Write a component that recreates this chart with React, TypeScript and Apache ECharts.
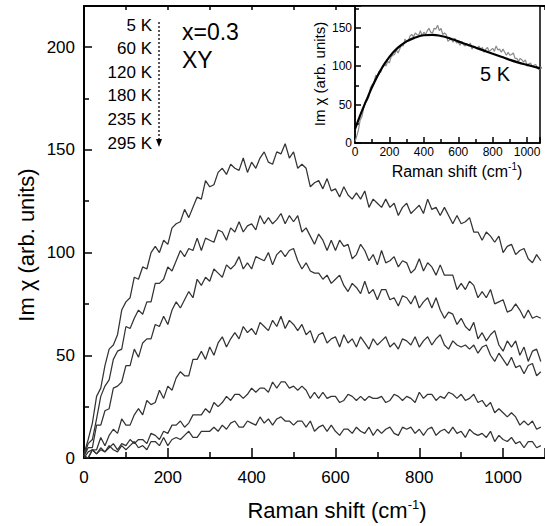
import React, { useEffect, useRef } from 'react';
import * as echarts from 'echarts';

// Raman shift grid step (cm^-1) for the main spectra, first point at 0
const SHIFT_STEP = 10;

// Im chi values, one value per 10 cm^-1 from 0 to 1090
const chi5K = [2, 9, 17, 30, 34, 45, 53, 55, 60, 72, 76, 78, 88, 87, 93, 92, 100, 103, 100, 106, 104, 112, 114, 115, 121, 117, 122, 127, 126, 135, 132, 133, 139, 141, 138, 143, 141, 140, 146, 139, 144, 141, 146, 149, 144, 143, 149, 148, 153, 146, 149, 141, 143, 141, 132, 134, 135, 131, 136, 130, 131, 127, 132, 128, 126, 129, 126, 130, 122, 126, 124, 122, 126, 122, 124, 118, 122, 124, 119, 121, 123, 119, 126, 121, 122, 118, 122, 118, 114, 118, 114, 115, 117, 110, 110, 106, 110, 108, 105, 108, 100, 103, 104, 99, 101, 102, 97, 95, 99, 96];
const chi60K = [1, 7, 9, 19, 30, 35, 38, 48, 52, 53, 64, 63, 68, 72, 70, 76, 76, 85, 85, 87, 93, 91, 96, 101, 98, 102, 101, 107, 101, 107, 106, 105, 111, 110, 106, 112, 110, 115, 110, 113, 114, 111, 118, 114, 117, 114, 116, 119, 114, 118, 115, 118, 110, 112, 108, 104, 109, 106, 101, 106, 101, 106, 103, 104, 97, 99, 104, 101, 96, 99, 94, 101, 95, 96, 98, 93, 96, 95, 90, 92, 97, 91, 95, 93, 89, 94, 89, 89, 89, 82, 85, 82, 86, 84, 78, 81, 78, 82, 75, 76, 77, 71, 72, 75, 72, 68, 72, 68, 69, 68];
const chi120K = [1, 5, 5, 16, 16, 23, 24, 34, 35, 37, 45, 45, 53, 49, 56, 58, 58, 65, 64, 69, 65, 72, 76, 73, 77, 81, 78, 87, 84, 88, 86, 92, 90, 88, 94, 92, 94, 98, 92, 95, 92, 98, 97, 96, 100, 94, 99, 101, 98, 101, 102, 96, 92, 95, 91, 90, 90, 87, 89, 85, 87, 89, 84, 81, 85, 83, 80, 86, 80, 82, 77, 82, 82, 77, 78, 74, 79, 78, 75, 79, 73, 76, 78, 73, 78, 72, 68, 71, 70, 65, 68, 64, 62, 66, 58, 61, 57, 60, 62, 55, 52, 57, 54, 57, 50, 54, 47, 52, 53, 47];
const chi180K = [0, 3, 4, 4, 10, 6, 11, 14, 12, 19, 16, 16, 21, 24, 21, 28, 26, 27, 33, 29, 35, 33, 39, 42, 40, 40, 48, 48, 52, 48, 54, 50, 56, 59, 54, 58, 61, 58, 64, 61, 63, 60, 66, 64, 62, 67, 64, 69, 63, 67, 65, 62, 65, 60, 62, 56, 60, 61, 56, 58, 59, 54, 60, 56, 58, 54, 59, 56, 53, 58, 55, 57, 59, 54, 56, 53, 58, 57, 55, 59, 54, 57, 59, 55, 58, 60, 55, 53, 57, 55, 54, 55, 53, 55, 51, 54, 55, 50, 47, 51, 48, 45, 49, 44, 45, 41, 45, 46, 40, 42];
const chi235K = [1, 0, 4, 2, 5, 3, 5, 7, 4, 7, 6, 9, 7, 9, 9, 7, 12, 11, 9, 13, 12, 16, 16, 18, 15, 17, 21, 21, 21, 24, 22, 27, 25, 27, 30, 28, 31, 31, 29, 31, 34, 32, 34, 34, 32, 37, 34, 37, 37, 34, 35, 33, 35, 33, 29, 32, 29, 32, 29, 30, 30, 27, 28, 31, 30, 28, 30, 28, 30, 29, 29, 30, 27, 28, 31, 30, 28, 30, 29, 27, 32, 29, 31, 31, 28, 30, 29, 32, 31, 29, 31, 28, 29, 31, 27, 28, 25, 27, 22, 24, 22, 20, 22, 20, 16, 18, 16, 18, 14, 15];
const chi295K = [1, 0, 4, 2, 4, 3, 6, 4, 3, 6, 4, 6, 8, 5, 6, 4, 8, 8, 6, 10, 6, 9, 10, 9, 11, 13, 10, 10, 13, 13, 13, 15, 13, 16, 14, 17, 18, 15, 15, 18, 17, 16, 20, 17, 19, 16, 19, 20, 18, 18, 16, 18, 18, 15, 18, 13, 15, 16, 13, 16, 13, 11, 14, 14, 12, 15, 13, 12, 15, 11, 14, 12, 14, 15, 12, 11, 15, 14, 15, 12, 14, 11, 14, 15, 11, 13, 14, 12, 15, 12, 13, 10, 14, 12, 11, 12, 10, 13, 8, 11, 9, 8, 10, 7, 8, 5, 8, 8, 5, 6];

// smooth fit shown in the inset (5 K)
const fitShift = [0, 25, 50, 75, 100, 150, 200, 250, 300, 350, 400, 450, 500, 550, 600, 650, 700, 750, 800, 850, 900, 950, 1000, 1050, 1075];
const fitValues = [18, 33, 47, 60, 73, 95, 112, 124, 132, 137, 140, 140.5, 139, 136, 132, 128, 124, 120, 116, 112, 108, 104.5, 101.5, 98.5, 97];

const tempLabels = ['5 K', '60 K', '120 K', '180 K', '235 K', '295 K'];
const FONT = '"Liberation Sans", Arial, Helvetica, sans-serif';

const toPairs = (vals: number[]) => vals.map((v, i) => [i * SHIFT_STEP, v]);

export default function App() {
  const ref = useRef<HTMLDivElement>(null);
  useEffect(() => {
    document.body.style.margin = '0';
    if (!ref.current) return;
    const chart = echarts.init(ref.current, undefined, { renderer: 'svg' });
    const curves = [chi5K, chi60K, chi120K, chi180K, chi235K, chi295K];
    const black = '#000';
    const tickStyle = { color: black, width: 1.5 };
    const mainSeries = curves.map((c, i) => ({
      type: 'line',
      name: tempLabels[i],
      xAxisIndex: 0,
      yAxisIndex: 0,
      data: toPairs(c),
      showSymbol: false,
      lineStyle: { color: '#333', width: 1.25 },
      z: 3,
    }));
    const legendTexts = tempLabels.map((t, i) => ({
      type: 'text',
      x: 152,
      y: 25 + i * 23.6,
      style: { text: t, align: 'right', verticalAlign: 'middle', fontSize: 17, fontFamily: FONT, fill: black },
    }));
    chart.setOption({
      animation: false,
      grid: [
        { left: 84, top: 6, right: -6, bottom: 68, show: false },
        { left: 355, top: 6, width: 185, height: 137, show: true, borderColor: black, borderWidth: 1.5, backgroundColor: '#fff', z: 5 },
      ],
      xAxis: [
        {
          type: 'value', gridIndex: 0, min: 0, max: 1100, interval: 200,
          axisLine: { show: true, onZero: false, lineStyle: { color: black, width: 2 } },
          axisTick: { inside: true, length: 10, lineStyle: tickStyle },
          minorTick: { show: true, splitNumber: 2, length: 6, lineStyle: tickStyle },
          axisLabel: { fontSize: 17, color: black, margin: 11, fontFamily: FONT, showMaxLabel: false, formatter: (v: number) => (v % 200 === 0 && v <= 1000 ? String(v) : '') },
          splitLine: { show: false },
        },
        {
          type: 'value', gridIndex: 0, min: 0, max: 1100, interval: 100, position: 'top',
          axisLine: { show: true, onZero: false, lineStyle: { color: black, width: 2 } },
          axisTick: { inside: true, length: 4, lineStyle: tickStyle },
          axisLabel: { show: false },
          splitLine: { show: false },
        },
        {
          type: 'value', gridIndex: 1, min: 0, max: 1075, interval: 200,
          axisLine: { show: true, onZero: false, lineStyle: { color: black, width: 1.5 } },
          axisTick: { inside: true, length: 6, lineStyle: tickStyle },
          minorTick: { show: true, splitNumber: 2, length: 4, lineStyle: tickStyle },
          axisLabel: { fontSize: 12, color: black, margin: 3, fontFamily: FONT, showMaxLabel: false, formatter: (v: number) => String(v) },
          splitLine: { show: false },
          z: 6,
        },
      ],
      yAxis: [
        {
          type: 'value', gridIndex: 0, min: 0, max: 220, interval: 50,
          axisLine: { show: true, onZero: false, lineStyle: { color: black, width: 2 } },
          axisTick: { inside: true, length: 8, lineStyle: tickStyle },
          minorTick: { show: true, splitNumber: 2, length: 5, lineStyle: tickStyle },
          axisLabel: { fontSize: 17, color: black, margin: 9, fontFamily: FONT, showMaxLabel: false },
          splitLine: { show: false },
        },
        {
          type: 'value', gridIndex: 1, min: 0, max: 178, interval: 50,
          axisLine: { show: true, onZero: false, lineStyle: { color: black, width: 1.5 } },
          axisTick: { inside: true, length: 6, lineStyle: tickStyle },
          minorTick: { show: true, splitNumber: 2, length: 4, lineStyle: tickStyle },
          axisLabel: { fontSize: 12, color: black, margin: 3, fontFamily: FONT, showMaxLabel: false },
          splitLine: { show: false },
          z: 6,
        },
      ],
      series: [
        ...mainSeries,
        {
          type: 'line', name: '5 K inset', xAxisIndex: 2, yAxisIndex: 1,
          data: toPairs(chi5K), showSymbol: false,
          lineStyle: { color: '#8a8a8a', width: 1.2 }, z: 6,
        },
        {
          type: 'line', name: 'fit', xAxisIndex: 2, yAxisIndex: 1,
          data: fitShift.map((s, i) => [s, fitValues[i]]), showSymbol: false, smooth: true,
          lineStyle: { color: black, width: 2.2 }, z: 7,
        },
      ],
      graphic: [
        ...legendTexts,
        { type: 'line', shape: { x1: 159, y1: 22, x2: 159, y2: 140 }, style: { stroke: black, lineWidth: 1.3, lineDash: [2, 2] } },
        { type: 'polygon', shape: { points: [[156, 139], [162, 139], [159, 147]] }, style: { fill: black } },
        { type: 'text', x: 182, y: 32, style: { text: 'x=0.3', align: 'left', verticalAlign: 'middle', fontSize: 23, fontFamily: FONT, fill: black } },
        { type: 'text', x: 182, y: 60, style: { text: 'XY', align: 'left', verticalAlign: 'middle', fontSize: 23, fontFamily: FONT, fill: black } },
        { type: 'text', x: 26, y: 245, rotation: Math.PI / 2, style: { text: 'Im χ (arb. units)', align: 'center', verticalAlign: 'middle', fontSize: 22, fontFamily: FONT, fill: black } },
        { type: 'text', x: 337, y: 510, style: { text: 'Raman shift (cm{sup|-1})', align: 'center', verticalAlign: 'middle', fontSize: 22, fontFamily: FONT, fill: black, rich: { sup: { fontSize: 13, fontFamily: FONT, fill: black, padding: [0, 0, 12, 0] } } } },
        { type: 'text', x: 457, y: 171, z: 10, style: { text: 'Raman shift (cm{sup|-1})', align: 'center', verticalAlign: 'middle', fontSize: 16, fontFamily: FONT, fill: black, rich: { sup: { fontSize: 10, fontFamily: FONT, fill: black, padding: [0, 0, 9, 0] } } } },
        { type: 'text', x: 319, y: 74, z: 10, rotation: Math.PI / 2, style: { text: 'Im χ (arb. units)', align: 'center', verticalAlign: 'middle', fontSize: 15, fontFamily: FONT, fill: black } },
        { type: 'text', x: 495, y: 74, z: 10, style: { text: '5 K', align: 'center', verticalAlign: 'middle', fontSize: 20, fontFamily: FONT, fill: black } },
      ],
    });
    return () => chart.dispose();
  }, []);
  return <div ref={ref} style={{ position: 'absolute', left: 0, top: 0, width: 545, height: 526, background: '#fff' }} />;
}
